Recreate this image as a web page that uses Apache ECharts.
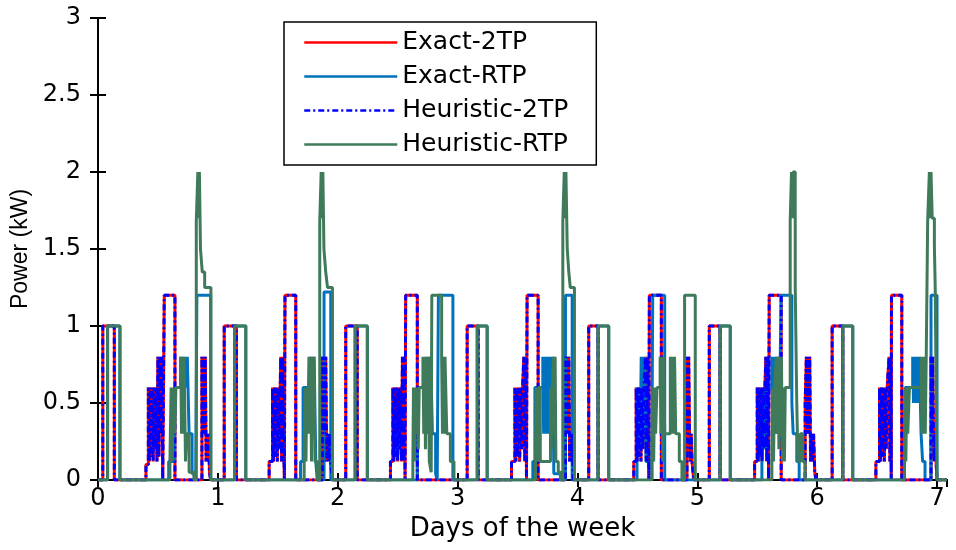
<!DOCTYPE html>
<html>
<head>
<meta charset="utf-8">
<script src="https://cdn.jsdelivr.net/npm/echarts@6/dist/echarts.min.js"></script>
<style>
 html, body { margin: 0; padding: 0; background: #fff; }
 #main { width: 956px; height: 550px; }
</style>
</head>
<body>
<div id="main"></div>
<script>
// x in days, y in kW; each point = [time the level starts, level]
var seriesNames = ['Exact-2TP', 'Exact-RTP', 'Heuristic-2TP', 'Heuristic-RTP'];
var xTicks = [0, 1, 2, 3, 4, 5, 6, 7];

var exact2tp = [
 [0,0],[0.04,1],[0.136,0],
 [0.40,0.1],[0.42,0.6],[0.428,0.12],[0.436,0.6],[0.444,0.15],[0.452,0.6],[0.46,0.12],[0.468,0.6],[0.476,0.2],[0.484,0.6],[0.492,0.12],[0.50,0.8],[0.508,0.15],[0.516,0.8],[0.524,0.3],[0.532,0.8],[0.54,0],[0.553,1.2],[0.642,0],
 [0.867,0.8],[0.874,0.3],[0.881,0.8],[0.888,0.3],[0.895,0.8],[0.902,0.12],[0.909,0.3],[0.916,0.12],[0.923,0.3],[0.93,0.05],[0.94,0],
 [1.053,1],[1.155,0],
 [1.428,0.12],[1.456,0.6],[1.464,0.12],[1.472,0.6],[1.48,0.15],[1.488,0.6],[1.496,0.12],[1.504,0.6],[1.512,0.2],[1.52,0.6],[1.525,0.8],[1.532,0.12],[1.54,0.8],[1.548,0.3],[1.555,0],[1.56,1.2],[1.65,0],
 [1.872,0.8],[1.879,0.3],[1.886,0.8],[1.893,0.3],[1.9,0.8],[1.908,0.12],[1.916,0.3],[1.924,0.12],[1.932,0.3],[1.94,0.12],[1.956,0],
 [2.067,1],[2.163,0],
 [2.44,0.12],[2.46,0.6],[2.468,0.12],[2.476,0.6],[2.484,0.15],[2.492,0.6],[2.5,0.12],[2.508,0.6],[2.516,0.2],[2.524,0.6],[2.532,0.12],[2.54,0.8],[2.548,0.12],[2.556,0.8],[2.562,0],[2.567,1.2],[2.664,0],
 [3.08,1],[3.172,0],
 [3.45,0.12],[3.478,0.6],[3.486,0.12],[3.494,0.6],[3.502,0.15],[3.51,0.6],[3.518,0.12],[3.526,0.6],[3.534,0.2],[3.542,0.6],[3.553,0.8],[3.561,0.12],[3.569,0.8],[3.575,0],[3.58,1.2],[3.672,0],
 [3.9,0.8],[3.907,0.3],[3.914,0.8],[3.921,0.3],[3.928,0.8],[3.935,0.12],[3.942,0.3],[3.949,0.12],[3.956,0.3],[3.965,0],
 [4.094,1],[4.172,0],
 [4.47,0.12],[4.49,0.6],[4.498,0.12],[4.506,0.6],[4.514,0.15],[4.522,0.6],[4.53,0.12],[4.538,0.6],[4.546,0.2],[4.554,0.6],[4.567,0.8],[4.575,0.12],[4.583,0.8],[4.591,0.3],[4.596,0],[4.6,1.2],[4.70,0],
 [4.914,0.8],[4.921,0.3],[4.928,0.8],[4.935,0.3],[4.942,0.12],[4.949,0.3],[4.956,0.12],[4.97,0],
 [5.1,1],[5.19,0],
 [5.478,0.12],[5.5,0.6],[5.508,0.12],[5.516,0.6],[5.524,0.15],[5.532,0.6],[5.54,0.12],[5.548,0.6],[5.556,0.2],[5.564,0.6],[5.572,0.8],[5.58,0.12],[5.588,0.8],[5.595,0],[5.6,1.2],[5.70,0],
 [5.9,0.5],[5.91,0.8],[5.917,0.3],[5.924,0.8],[5.931,0.3],[5.938,0.8],[5.945,0.12],[5.952,0.3],[5.96,0.12],[5.97,0.3],[5.98,0.05],[5.99,0],
 [6.125,1],[6.214,0],
 [6.49,0.12],[6.52,0.6],[6.528,0.12],[6.536,0.6],[6.544,0.15],[6.552,0.6],[6.56,0.12],[6.568,0.6],[6.576,0.2],[6.584,0.6],[6.6,0.8],[6.607,0.12],[6.614,0.8],[6.618,0],[6.62,1.2],[6.706,0],
 [6.95,0.8],[6.957,0.3],[6.964,0.8],[6.971,0.3],[6.978,0.12],[6.985,0.3],[6.992,0.12],[7.0,0],[7.0833,0]
];

// the heuristic schedule under two-tier pricing is the same as the exact one
var heuristic2tp = exact2tp;

var exactRtp = [
 [0,0],[0.08,1],[0.183,0],
 [0.59,0.12],[0.64,0.6],[0.69,0.8],[0.697,0.6],[0.704,0.8],[0.711,0.6],[0.718,0.8],[0.73,0.6],[0.745,0.8],[0.76,0.3],[0.785,0.04],[0.815,0],[0.825,1.2],[0.94,0],
 [1.14,1],[1.233,0],
 [1.69,0.12],[1.711,0.6],[1.775,0.8],[1.782,0.6],[1.789,0.8],[1.796,0.6],[1.803,0.8],[1.817,0.12],[1.83,0],[1.886,1.22],[1.942,0],
 [2.145,1],[2.247,0],
 [2.664,0.12],[2.67,0.6],[2.747,0.8],[2.754,0.3],[2.761,0.8],[2.768,0.3],[2.775,0.8],[2.79,0.3],[2.817,0.04],[2.83,0],[2.84,1.2],[2.961,0],
 [3.164,1],[3.247,0],
 [3.628,0.12],[3.645,0.6],[3.711,0.8],[3.718,0.3],[3.725,0.8],[3.732,0.3],[3.739,0.8],[3.746,0.3],[3.753,0.8],[3.76,0.3],[3.767,0.8],[3.774,0.3],[3.781,0.8],[3.788,0.3],[3.795,0.8],[3.803,0.04],[3.858,0],[3.9,1.2],[3.956,0],
 [4.172,1],[4.261,0],
 [4.497,0.12],[4.50,0.6],[4.508,0.2],[4.516,0.6],[4.524,0.2],[4.532,0.8],[4.54,0.3],[4.548,0.8],[4.556,0.3],[4.564,0.8],[4.572,0.12],[4.62,0],[4.628,1.2],[4.728,0],
 [5.19,1],[5.275,0],
 [5.539,0.12],[5.545,0.6],[5.553,0.2],[5.561,0.6],[5.569,0.2],[5.577,0.6],[5.622,0.8],[5.629,0.3],[5.636,0.8],[5.643,0.3],[5.65,0.8],[5.657,0.3],[5.664,0.8],[5.671,0.3],[5.678,0.8],[5.685,0.3],[5.692,0.8],[5.70,1.2],[5.789,0.5],[5.80,0.3],[5.83,0.12],[5.85,0],
 [6.214,1],[6.297,0],
 [6.728,0.12],[6.733,0.6],[6.797,0.8],[6.804,0.5],[6.811,0.8],[6.818,0.5],[6.825,0.8],[6.832,0.5],[6.839,0.8],[6.846,0.5],[6.853,0.8],[6.867,0.3],[6.88,0.12],[6.9,0],[6.95,1.2],[7.0,0],[7.0833,0]
];

var heuristicRtp = [
 [0,0],[0.08,1],[0.183,0],
 [0.60,0.12],[0.61,0.6],[0.62,0.12],[0.63,0.6],[0.64,0.3],[0.65,0.6],[0.69,0.8],[0.697,0.3],[0.704,0.8],[0.711,0.3],[0.718,0.8],[0.73,0.12],[0.74,0.3],[0.76,0.05],[0.80,0],[0.82,1.68],[0.833,2.0],[0.84,1.7],[0.846,2.0],[0.855,1.5],[0.87,1.35],[0.89,1.25],[0.942,0],
 [1.14,1],[1.233,0],
 [1.72,0.12],[1.727,0.6],[1.735,0.12],[1.742,0.6],[1.75,0.3],[1.76,0.8],[1.767,0.3],[1.774,0.8],[1.781,0.12],[1.788,0.8],[1.795,0.3],[1.802,0.8],[1.81,0.12],[1.83,0],[1.85,1.68],[1.862,2.0],[1.869,1.7],[1.876,2.0],[1.885,1.5],[1.9,1.35],[1.915,1.25],[1.956,0],
 [2.145,1],[2.247,0],
 [2.627,0.12],[2.632,0.6],[2.64,0.12],[2.648,0.6],[2.656,0.3],[2.664,0.6],[2.672,0.2],[2.68,0.6],[2.711,0.8],[2.718,0.3],[2.725,0.8],[2.732,0.2],[2.74,0.8],[2.748,0.3],[2.756,0.8],[2.764,0.12],[2.78,0.05],[2.785,1.2],[2.867,0.8],[2.874,0.3],[2.881,0.8],[2.888,0.3],[2.895,0.8],[2.91,0.3],[2.94,0.12],[2.97,0],
 [3.164,1],[3.247,0],
 [3.65,0.12],[3.655,0.6],[3.665,0.12],[3.672,0.6],[3.69,0.12],[3.775,0.6],[3.782,0.2],[3.79,0.6],[3.80,0.8],[3.807,0.3],[3.814,0.8],[3.82,0.12],[3.84,0.05],[3.86,0],[3.878,1.68],[3.89,2.0],[3.897,1.7],[3.904,2.0],[3.915,1.5],[3.928,1.35],[3.94,1.25],[3.975,0],
 [4.172,1],[4.261,0],
 [4.622,0.12],[4.628,0.6],[4.636,0.12],[4.644,0.6],[4.652,0.3],[4.664,0.6],[4.69,0.8],[4.697,0.3],[4.704,0.8],[4.712,0.12],[4.72,0.8],[4.728,0.3],[4.775,0.8],[4.782,0.3],[4.79,0.8],[4.797,0.3],[4.81,0.8],[4.82,0.3],[4.85,0.12],[4.872,0],[4.894,1.2],[4.983,0],
 [5.19,1],[5.275,0],
 [5.622,0.12],[5.628,0.6],[5.636,0.12],[5.644,0.6],[5.66,0.8],[5.667,0.3],[5.674,0.8],[5.681,0.2],[5.688,0.8],[5.695,0.3],[5.702,0.8],[5.71,0.12],[5.72,0.6],[5.727,0.12],[5.734,0.6],[5.775,1.68],[5.786,2.0],[5.793,1.7],[5.80,2.0],[5.817,1.25],[5.83,0.5],[5.84,0.12],[5.86,0.3],[5.88,0.12],[5.9,0],
 [6.214,1],[6.297,0],
 [6.728,0.12],[6.733,0.6],[6.74,0.12],[6.748,0.6],[6.756,0.3],[6.77,0.6],[6.867,0.8],[6.874,0.3],[6.881,0.8],[6.888,0.3],[6.895,0.8],[6.902,0.3],[6.91,0.8],[6.922,1.68],[6.936,2.0],[6.943,1.7],[6.95,2.0],[6.96,1.7],[6.978,1.52],[6.985,1.25],[7.0,0],[7.0833,0]
];

var tickFont = 'DejaVu Sans';

function stairs(name, data, color, type, z) {
    return {
        name: name,
        type: 'line',
        step: 'end',
        data: data,
        symbol: 'none',
        showSymbol: false,
        z: z,
        lineStyle: { color: color, width: 3, type: type },
        itemStyle: { color: color }
    };
}

var option = {
    animation: false,
    backgroundColor: '#fff',
    grid: { left: 98, right: 9, top: 18, bottom: 70 },
    legend: {
        orient: 'vertical',
        left: 284,
        top: 22,
        padding: [8, 28, 8, 19],
        itemGap: 9,
        itemWidth: 93,
        itemHeight: 14,
        itemTextGap: 15,
        borderColor: '#000',
        borderWidth: 1.5,
        backgroundColor: '#fff',
        itemStyle: { opacity: 0 },
        lineStyle: { width: 2.5 },
        data: seriesNames,
        textStyle: { fontFamily: tickFont, fontSize: 25, color: '#000', lineHeight: 25 }
    },
    xAxis: [{
        type: 'value',
        min: 0,
        max: 7.0833,
        interval: 1,
        name: 'Days of the week',
        nameLocation: 'middle',
        nameGap: 34,
        nameTextStyle: { fontFamily: tickFont, fontSize: 26, color: '#000' },
        axisLine: { lineStyle: { color: '#000', width: 2 } },
        axisTick: { inside: true, length: 7, lineStyle: { color: '#000', width: 2 } },
        axisLabel: {
            fontFamily: tickFont, fontSize: 24, color: '#000', margin: 7, showMaxLabel: false,
            formatter: function (v) { return xTicks.indexOf(v) >= 0 ? String(v) : ''; }
        },
        splitLine: { show: false }
    }, {
        type: 'value',
        position: 'top',
        min: 0,
        max: 7.0833,
        interval: 1,
        axisLine: { lineStyle: { color: '#000', width: 2 } },
        axisTick: { inside: true, length: 7, lineStyle: { color: '#000', width: 2 } },
        axisLabel: { show: false },
        splitLine: { show: false }
    }],
    yAxis: [{
        type: 'value',
        min: 0,
        max: 3,
        interval: 0.5,
        name: 'Power (kW)',
        nameLocation: 'middle',
        nameGap: 60,
        nameTextStyle: { fontFamily: 'Liberation Sans', fontSize: 23, color: '#000' },
        axisLine: { show: true, lineStyle: { color: '#000', width: 2 } },
        axisTick: { show: true, inside: true, length: 8, lineStyle: { color: '#000', width: 2 } },
        axisLabel: { fontFamily: tickFont, fontSize: 24, color: '#000', margin: 17 },
        splitLine: { show: false }
    }, {
        type: 'value',
        position: 'right',
        min: 0,
        max: 3,
        interval: 0.5,
        axisLine: { show: true, lineStyle: { color: '#000', width: 2 } },
        axisTick: { show: true, inside: true, length: 8, lineStyle: { color: '#000', width: 2 } },
        axisLabel: { show: false },
        splitLine: { show: false }
    }],
    series: [
        stairs(seriesNames[0], exact2tp, '#ff0000', 'solid', 2),
        stairs(seriesNames[1], exactRtp, '#0072bd', 'solid', 3),
        stairs(seriesNames[2], heuristic2tp, '#0000ff', [6, 3, 2, 3], 4),
        stairs(seriesNames[3], heuristicRtp, '#3f7a5a', 'solid', 5)
    ]
};

var myChart = echarts.init(document.getElementById('main'));
myChart.setOption(option);
</script>
</body>
</html>
